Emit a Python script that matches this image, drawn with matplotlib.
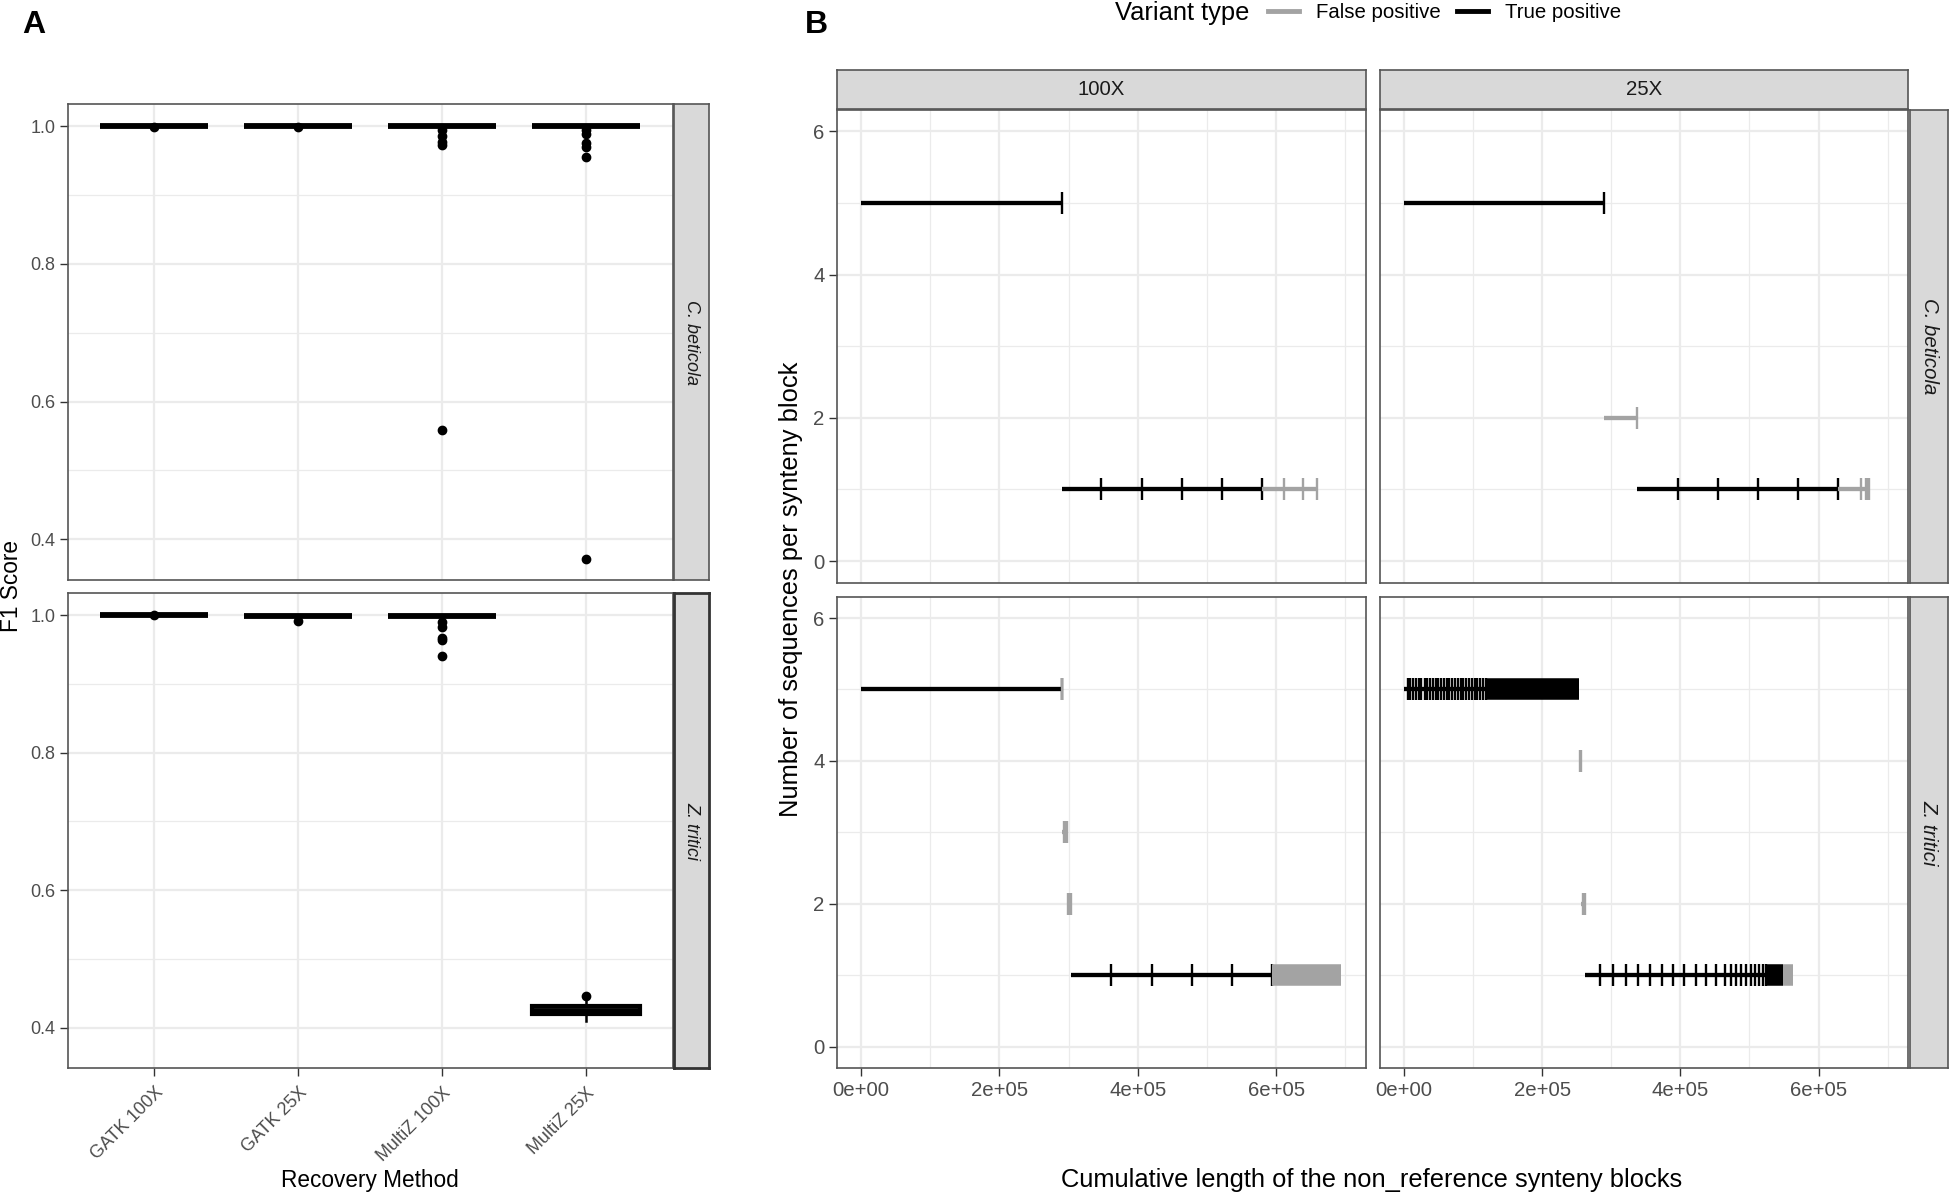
import matplotlib
matplotlib.use("Agg")
import matplotlib.pyplot as plt
from matplotlib.lines import Line2D

plt.rcParams['font.family'] = ['Liberation Sans', 'DejaVu Sans']

# ---------------- data: panel A (F1 score boxplots) ----------------
methods = ['GATK 100X', 'GATK 25X', 'MultiZ 100X', 'MultiZ 25X']
species = ['C. beticola', 'Z. tritici']

cb_q1 = [1.0, 1.0, 1.0, 1.0]
cb_med = [1.0, 1.0, 1.0, 1.0]
cb_q3 = [1.0, 1.0, 1.0, 1.0]
cb_wlo = [1.0, 1.0, 1.0, 1.0]
cb_whi = [1.0, 1.0, 1.0, 1.0]
cb_fliers = [[0.998], [0.998],
             [0.994, 0.986, 0.977, 0.973, 0.559],
             [0.994, 0.989, 0.975, 0.969, 0.955, 0.372]]

zt_q1 = [1.0, 0.998, 0.998, 0.4196]
zt_med = [1.0, 0.998, 0.998, 0.425]
zt_q3 = [1.0, 0.998, 0.998, 0.431]
zt_wlo = [1.0, 0.998, 0.998, 0.4103]
zt_whi = [1.0, 0.998, 0.998, 0.440]
zt_fliers = [[1.0], [0.991],
             [0.990, 0.983, 0.967, 0.964, 0.941],
             [0.4466]]

# ---------------- data: panel B (synteny blocks) ----------------
# cumulative end of each block, sequences per block, variant type,
# and whether the block is a run of many tiny blocks that merge visually
coverages = ['100X', '25X']
xtick_vals = [0, 2e5, 4e5, 6e5]
xtick_labels = ['0e+00', '2e+05', '4e+05', '6e+05']

cb100_end = [2.900e5, 3.475e5, 4.055e5, 4.636e5, 5.217e5, 5.798e5,
             6.118e5, 6.390e5, 6.588e5]
cb100_nseq = [5, 1, 1, 1, 1, 1, 1, 1, 1]
cb100_type = ['TP', 'TP', 'TP', 'TP', 'TP', 'TP', 'FP', 'FP', 'FP']
cb100_dense = [0, 0, 0, 0, 0, 0, 0, 0, 0]

cb25_end = [2.892e5, 3.380e5, 3.960e5, 4.539e5, 5.119e5, 5.698e5,
            6.283e5, 6.610e5, 6.690e5, 6.710e5, 6.730e5]
cb25_nseq = [5, 2, 1, 1, 1, 1, 1, 1, 1, 1, 1]
cb25_type = ['TP', 'FP', 'TP', 'TP', 'TP', 'TP', 'TP', 'FP', 'FP', 'FP', 'FP']
cb25_dense = [0, 0, 0, 0, 0, 0, 0, 0, 0, 0, 0]

zt100_end = [2.905e5, 2.910e5,
             2.930e5, 2.943e5, 2.957e5, 2.970e5,
             2.990e5, 3.003e5, 3.017e5, 3.030e5,
             3.613e5, 4.199e5, 4.780e5, 5.361e5, 5.937e5,
             6.940e5]
zt100_nseq = [5, 5, 3, 3, 3, 3, 2, 2, 2, 2, 1, 1, 1, 1, 1, 1]
zt100_type = ['TP', 'FP', 'FP', 'FP', 'FP', 'FP', 'FP', 'FP', 'FP', 'FP',
              'TP', 'TP', 'TP', 'TP', 'TP', 'FP']
zt100_dense = [0, 0, 0, 0, 0, 0, 0, 0, 0, 0, 0, 0, 0, 0, 0, 1]

zt25_end = [0.054e5, 0.092e5, 0.136e5, 0.174e5, 0.218e5, 0.256e5, 0.300e5,
            0.338e5, 0.377e5, 0.420e5, 0.459e5, 0.502e5, 0.540e5, 0.579e5,
            0.622e5, 0.661e5, 0.704e5, 0.743e5, 0.781e5, 0.825e5, 0.863e5,
            0.906e5, 0.945e5, 0.984e5, 1.027e5, 1.065e5, 1.104e5, 1.147e5,
            1.185e5, 2.535e5,
            2.542e5, 2.562e5,
            2.598e5, 2.618e5,
            2.838e5, 3.021e5, 3.209e5, 3.387e5, 3.560e5, 3.729e5, 3.893e5,
            4.057e5, 4.221e5, 4.370e5, 4.510e5, 4.649e5, 4.731e5, 4.808e5,
            4.880e5, 4.953e5, 5.020e5, 5.083e5, 5.141e5, 5.189e5, 5.237e5,
            5.487e5, 5.623e5]
zt25_nseq = [5] * 30 + [4, 4, 2, 2] + [1] * 23
zt25_type = ['TP'] * 30 + ['FP'] * 4 + ['TP'] * 22 + ['FP']
zt25_dense = [0] * 29 + [1] + [0] * 4 + [0] * 21 + [1, 1]

# ---------------- style ----------------
W, H = 1955, 1201
GREY = '#A3A3A3'
COLORS = {'TP': 'black', 'FP': GREY}
TEXT = '#4D4D4D'
BORDER = '#555555'
GRID = '#EBEBEB'
STRIP_FILL = '#D9D9D9'
A_TICK = 13.0     # panel A was drawn slightly condensed
A_TITLE = 16.3


def box(l, t, r, b):
    return [l / W, 1 - b / H, (r - l) / W, (b - t) / H]


def style_axes(ax, labelsize=14.7):
    ax.set_facecolor('white')
    for s in ax.spines.values():
        s.set_color(BORDER)
        s.set_linewidth(1.2)
    ax.set_axisbelow(True)
    ax.grid(which='major', color=GRID, linewidth=1.6)
    ax.grid(which='minor', color=GRID, linewidth=0.9)
    ax.tick_params(which='major', length=5.5, width=1.0, color='#333333',
                   labelcolor=TEXT, labelsize=labelsize, pad=3.5)
    ax.tick_params(which='minor', length=0)


def strip(rect, label, rotation=0, size=14.7, edge=BORDER, lw=1.2):
    s = fig.add_axes(rect)
    s.set_facecolor(STRIP_FILL)
    s.set_xticks([])
    s.set_yticks([])
    for sp in s.spines.values():
        sp.set_color(edge)
        sp.set_linewidth(lw)
    s.text(0.5, 0.5, label, ha='center', va='center', rotation=rotation,
           fontsize=size, color='#1A1A1A', transform=s.transAxes,
           style='italic' if rotation else 'normal')
    return s


fig = plt.figure(figsize=(W / 100, H / 100), dpi=100)

# ---------------- panel A ----------------
a_rows = [(104, 580), (593, 1068.3)]
a_stats = [(cb_q1, cb_med, cb_q3, cb_wlo, cb_whi, cb_fliers),
           (zt_q1, zt_med, zt_q3, zt_wlo, zt_whi, zt_fliers)]
for i, ((top, bot), st) in enumerate(zip(a_rows, a_stats)):
    ax = fig.add_axes(box(68, top, 672.6, bot))
    style_axes(ax, labelsize=A_TICK)
    q1, med, q3, wlo, whi, fl = st
    stats = [dict(q1=a, med=b, q3=c, whislo=d, whishi=e, fliers=f)
             for a, b, c, d, e, f in zip(q1, med, q3, wlo, whi, fl)]
    ax.bxp(stats, positions=range(1, 5), widths=0.75, showcaps=False,
           patch_artist=True,
           boxprops=dict(facecolor='white', edgecolor='black', linewidth=3.0),
           medianprops=dict(color='black', linewidth=4.2),
           whiskerprops=dict(color='black', linewidth=1.8),
           flierprops=dict(marker='o', markerfacecolor='black',
                           markeredgecolor='black', markersize=6))
    ax.set_xlim(0.4, 4.6)
    ax.set_ylim(0.341, 1.032)
    ax.set_yticks([0.4, 0.6, 0.8, 1.0])
    ax.set_yticks([0.5, 0.7, 0.9], minor=True)
    ax.set_yticklabels(['0.4', '0.6', '0.8', '1.0'])
    ax.set_xticks(range(1, 5))
    if i == 0:
        ax.tick_params(axis='x', length=0, labelbottom=False)
    else:
        ax.set_xticklabels(methods, rotation=45, ha='right', va='top',
                           rotation_mode='anchor')
        ax.tick_params(axis='x', pad=6)
    if i == 0:
        strip(box(674, top, 709, bot), species[i], rotation=-90, size=A_TICK)
    else:
        strip(box(674, top, 709, bot), species[i], rotation=-90, size=A_TICK,
              edge='#333333', lw=2.0)

fig.text(12 / W, 1 - 586 / H, 'F1 Score', rotation=90, ha='center',
         va='center', fontsize=A_TITLE)
fig.text(370 / W, 1 - 1180 / H, 'Recovery Method', ha='center', va='center',
         fontsize=A_TITLE)
fig.text(34 / W, 1 - 25 / H, 'A', ha='center', va='center', fontsize=23,
         fontweight='bold')

# ---------------- panel B ----------------
b_cols = [(837, 1365.5), (1379.8, 1907.8)]
b_rows = [(110, 582.5), (596.6, 1068)]
b_data = [[(cb100_end, cb100_nseq, cb100_type, cb100_dense),
           (cb25_end, cb25_nseq, cb25_type, cb25_dense)],
          [(zt100_end, zt100_nseq, zt100_type, zt100_dense),
           (zt25_end, zt25_nseq, zt25_type, zt25_dense)]]

SEG_LW = 3.1
TICK_MS = 15.5
TICK_MEW = 1.7

for r, (top, bot) in enumerate(b_rows):
    for c, (left, right) in enumerate(b_cols):
        ax = fig.add_axes(box(left, top, right, bot))
        style_axes(ax)
        ends, nseq, vtype, dense = b_data[r][c]
        start = 0.0
        for e, n, t, d in zip(ends, nseq, vtype, dense):
            col = COLORS[t]
            if d:
                ax.plot([start, e], [n, n], color=col, lw=TICK_MS,
                        solid_capstyle='butt')
            else:
                ax.plot([start, e], [n, n], color=col, lw=SEG_LW,
                        solid_capstyle='butt')
                ax.plot([e], [n], marker='|', ms=TICK_MS, mew=TICK_MEW,
                        color=col, linestyle='none')
            start = e
        ax.set_xlim(-0.347e5, 7.29e5)
        ax.set_ylim(-0.3, 6.3)
        ax.set_xticks(xtick_vals)
        ax.set_xticks([1e5, 3e5, 5e5, 7e5], minor=True)
        ax.set_yticks([0, 2, 4, 6])
        ax.set_yticks([1, 3, 5], minor=True)
        if r == 0:
            ax.tick_params(axis='x', length=0, labelbottom=False)
        else:
            ax.set_xticklabels(xtick_labels)
        if c == 1:
            ax.tick_params(axis='y', length=0, labelleft=False)
        if r == 0:
            strip(box(left, 70, right, 109), coverages[c])
    strip(box(1910, top, 1948, bot), species[r], rotation=-90)

fig.text(791 / W, 1 - 589 / H, 'Number of sequences per synteny block',
         rotation=90, ha='center', va='center', fontsize=18.4)
fig.text(1372 / W, 1 - 1180 / H,
         'Cumulative length of the non_reference synteny blocks',
         ha='center', va='center', fontsize=18.4)
fig.text(816 / W, 1 - 25 / H, 'B', ha='center', va='center', fontsize=23,
         fontweight='bold')

# legend along the top
fig.text(1249 / W, 1 - 13 / H, 'Variant type', ha='right', va='center',
         fontsize=18.4)
handles = [Line2D([], [], color=GREY, lw=3.5), Line2D([], [], color='black', lw=3.5)]
fig.legend(handles, ['False positive', 'True positive'], loc='center left',
           bbox_to_anchor=(1268 / W, 1 - 13 / H), ncol=2, frameon=False,
           fontsize=14.7, handlelength=1.5, handletextpad=0.85,
           columnspacing=0.8, borderpad=0, borderaxespad=0)

fig.savefig('out.png', dpi=100, facecolor='white')
